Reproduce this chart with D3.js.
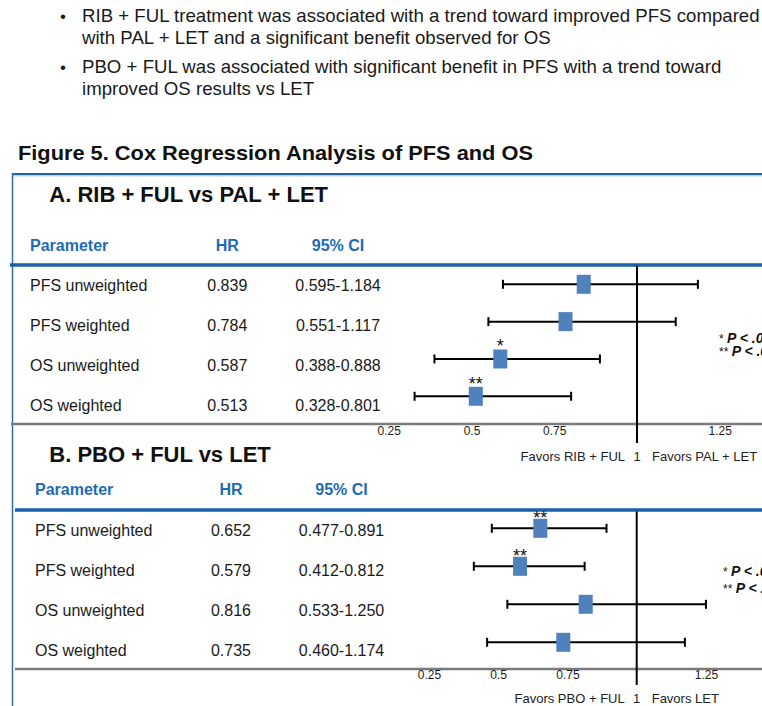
<!DOCTYPE html>
<html><head><meta charset="utf-8">
<script src="https://cdn.jsdelivr.net/npm/d3@7"></script>
<style>
body{margin:0;background:#fff;overflow:hidden}
svg{display:block;font-family:"Liberation Sans",Arial,Helvetica,sans-serif}
</style>
</head><body>
<svg id="chart" width="762" height="706"></svg>
<script>
// ---------- data ----------
const parameters = ["PFS unweighted", "PFS weighted", "OS unweighted", "OS weighted"];
const hrA     = [0.839, 0.784, 0.587, 0.513];
const ciLowA  = [0.595, 0.551, 0.388, 0.328];
const ciHighA = [1.184, 1.117, 0.888, 0.801];
const sigA    = ["", "", "*", "**"];
const hrB     = [0.652, 0.579, 0.816, 0.735];
const ciLowB  = [0.477, 0.412, 0.533, 0.460];
const ciHighB = [0.891, 0.812, 1.250, 1.174];
const sigB    = ["**", "**", "", ""];
const axisTicks = [0.25, 0.5, 0.75, 1.25];
const refValue = 1;
const bullets = [
  ["RIB + FUL treatment was associated with a trend toward improved PFS compared",
   "with PAL + LET and a significant benefit observed for OS"],
  ["PBO + FUL was associated with significant benefit in PFS with a trend toward",
   "improved OS results vs LET"]
];
const figureTitle = "Figure 5. Cox Regression Analysis of PFS and OS";
const panelTitles = ["A. RIB + FUL vs PAL + LET", "B. PBO + FUL vs LET"];
const headers = ["Parameter", "HR", "95% CI"];
const favorsLeft = ["Favors RIB + FUL", "Favors PBO + FUL"];
const favorsRight = ["Favors PAL + LET", "Favors LET"];
const sigLegend = [["* ", "P < .05"], ["** ", "P < .01"]];

// ---------- drawing ----------
const W = 762, H = 706;
const svg = d3.select("#chart");
const BLUE = "#1a60a9", HEAD_BLUE = "#1f6bb5", SQ = "#4f81bd", TXT = "#1a1a1a";
const fmt = d3.format(".3f");

// bullets (slightly wide face, as in the source)
const bulletBase = [[22, 44], [73, 95]];
bullets.forEach((lines, i) => {
  svg.append("text").attr("x", 60).attr("y", bulletBase[i][0])
    .attr("font-size", 17).attr("fill", TXT).text("•");
  lines.forEach((ln, j) => {
    svg.append("text").attr("transform", `translate(82,${bulletBase[i][j]}) scale(1.066,1)`)
      .attr("font-size", 17.5).attr("fill", TXT).text(ln);
  });
});

// figure title
svg.append("text").attr("transform", "translate(18,159.5) scale(1.09,1)")
  .attr("font-size", 20).attr("font-weight", "bold").attr("fill", "#111").text(figureTitle);

// panel frame
svg.append("line").attr("x1", 12).attr("x2", W).attr("y1", 174).attr("y2", 174)
  .attr("stroke", "#1f64ae").attr("stroke-width", 2);
svg.append("line").attr("x1", 12).attr("x2", W).attr("y1", 175.8).attr("y2", 175.8)
  .attr("stroke", "#9dbfe2").attr("stroke-width", 1);
svg.append("line").attr("x1", 12.5).attr("x2", 12.5).attr("y1", 173).attr("y2", H)
  .attr("stroke", "#2a6db5").attr("stroke-width", 1.5);

const panels = [
  { title: panelTitles[0], titleY: 201.7, headY: 250.5, ruleY: 265, ruleX0: 10,
    rows: [290.7, 410.7], marks: [284.3, 396.3], axisY: 424, axisX0: 11,
    refX: 637, ppu: 331, refTop: 266, refBottom: 443, tickPad: 2.5, favorsY: 461,
    legendX: 719, legendY: [342.5, 356], labelX: 30, hrX: 227.3, ciX: 338, astDy: 3,
    hr: hrA, lo: ciLowA, hi: ciHighA, sig: sigA, fl: favorsLeft[0], fr: favorsRight[0] },
  { title: panelTitles[1], titleY: 461.7, headY: 495, ruleY: 510, ruleX0: 15,
    rows: [535.6, 655.6], marks: [528.3, 642.3], axisY: 669, axisX0: 15,
    refX: 636.7, ppu: 277, refTop: 511.5, refBottom: 685, tickPad: 1, favorsY: 703,
    legendX: 723, legendY: [576, 593.3], labelX: 35, hrX: 231, ciX: 341.5, astDy: 5,
    hr: hrB, lo: ciLowB, hi: ciHighB, sig: sigB, fl: favorsLeft[1], fr: favorsRight[1] }
];

panels.forEach(p => {
  const g = svg.append("g");
  const x = d3.scaleLinear().domain([0.25, 1.25])
    .range([p.refX - 0.75 * p.ppu, p.refX + 0.25 * p.ppu]);
  const yText = d3.scalePoint().domain(parameters).range(p.rows);
  const yMark = d3.scalePoint().domain(parameters).range(p.marks);

  // panel title
  g.append("text").attr("x", 49.3).attr("y", p.titleY)
    .attr("font-size", 22).attr("font-weight", "bold").attr("fill", "#111").text(p.title);

  // headers
  const hx = [p.labelX, p.hrX, p.ciX], ha = ["start", "middle", "middle"];
  headers.forEach((h, i) => {
    g.append("text").attr("x", hx[i]).attr("y", p.headY).attr("text-anchor", ha[i])
      .attr("font-size", 16).attr("font-weight", "bold").attr("fill", HEAD_BLUE).text(h);
  });

  // rules
  g.append("line").attr("x1", p.ruleX0).attr("x2", W).attr("y1", p.ruleY).attr("y2", p.ruleY)
    .attr("stroke", BLUE).attr("stroke-width", 3.5);
  g.append("line").attr("x1", p.axisX0).attr("x2", W).attr("y1", p.axisY).attr("y2", p.axisY)
    .attr("stroke", "#7a7a7a").attr("stroke-width", 2.5);

  // table rows
  parameters.forEach((name, i) => {
    const y = yText(name);
    g.append("text").attr("x", p.labelX).attr("y", y).attr("font-size", 16).attr("fill", TXT).text(name);
    g.append("text").attr("x", p.hrX).attr("y", y).attr("text-anchor", "middle")
      .attr("font-size", 16).attr("fill", TXT).text(fmt(p.hr[i]));
    g.append("text").attr("x", p.ciX).attr("y", y).attr("text-anchor", "middle")
      .attr("font-size", 16).attr("fill", TXT).text(fmt(p.lo[i]) + "-" + fmt(p.hi[i]));
  });

  // reference line
  g.append("line").attr("x1", x(refValue)).attr("x2", x(refValue))
    .attr("y1", p.refTop).attr("y2", p.refBottom).attr("stroke", "#000").attr("stroke-width", 2);

  // whiskers, stars, squares
  const capH = 9, sqW = 14, sqH = 19;
  parameters.forEach((name, i) => {
    const y = yMark(name);
    g.append("line").attr("x1", x(p.lo[i])).attr("x2", x(p.hi[i])).attr("y1", y).attr("y2", y)
      .attr("stroke", "#000").attr("stroke-width", 2);
    [p.lo[i], p.hi[i]].forEach(v => {
      g.append("line").attr("x1", x(v)).attr("x2", x(v)).attr("y1", y - capH / 2).attr("y2", y + capH / 2)
        .attr("stroke", "#000").attr("stroke-width", 2);
    });
    if (p.sig[i]) {
      g.append("text").attr("x", x(p.hr[i])).attr("y", y - sqH / 2 + p.astDy)
        .attr("text-anchor", "middle").attr("font-size", 18).attr("fill", "#111").text(p.sig[i]);
    }
    g.append("rect").attr("x", x(p.hr[i]) - sqW / 2).attr("y", y - sqH / 2)
      .attr("width", sqW).attr("height", sqH).attr("fill", SQ);
  });

  // axis tick labels
  const ax = g.append("g").attr("transform", `translate(0,${p.axisY})`)
    .call(d3.axisBottom(x).tickValues(axisTicks).tickSize(0).tickPadding(p.tickPad).tickFormat(d3.format("")));
  ax.select(".domain").remove();
  ax.attr("font-family", null).attr("font-size", null);
  ax.selectAll("text").attr("font-size", 12).attr("fill", TXT);

  // favors labels
  g.append("text").attr("x", x(refValue) - 12).attr("y", p.favorsY).attr("text-anchor", "end")
    .attr("font-size", 13).attr("fill", "#222").text(p.fl);
  g.append("text").attr("x", x(refValue)).attr("y", p.favorsY).attr("text-anchor", "middle")
    .attr("font-size", 13).attr("fill", "#222").text(d3.format("")(refValue));
  g.append("text").attr("x", x(refValue) + 15).attr("y", p.favorsY)
    .attr("font-size", 13).attr("fill", "#222").text(p.fr);

  // significance legend (runs off the right edge as in the source)
  sigLegend.forEach((s, i) => {
    const t = g.append("text").attr("x", p.legendX).attr("y", p.legendY[i])
      .attr("font-size", 14).attr("font-weight", "bold").attr("fill", "#111");
    t.append("tspan").attr("font-size", 12).attr("font-weight", "normal").text(s[0]);
    t.append("tspan").attr("font-style", "italic").text(s[1]);
  });
});
</script>
</body></html>
